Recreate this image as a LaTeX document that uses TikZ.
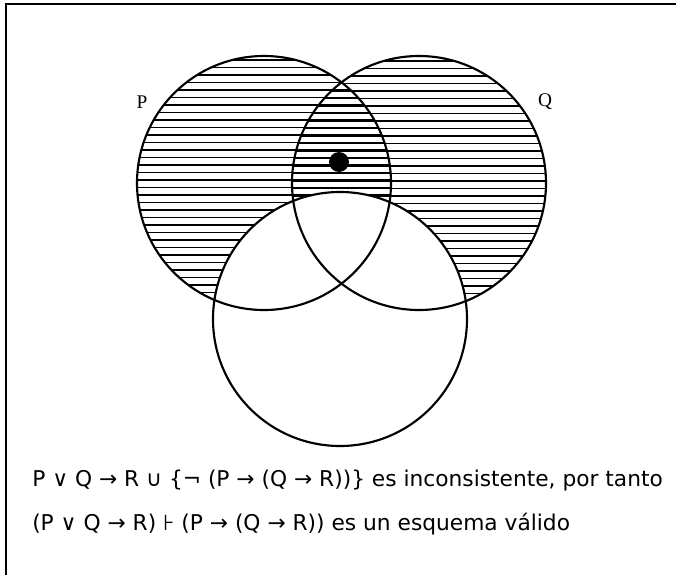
\documentclass[tikz,border=0pt]{standalone}
\usepackage{fontspec}
\setmainfont{DejaVu Sans}
\newfontfamily\setfont{Liberation Serif}
\usetikzlibrary{positioning}

\begin{document}
\begin{tikzpicture}[
        x=0.75pt, y=-0.75pt,
        ring/.style={draw, line width=1.6pt},
        hatch/.style={line width=0.8pt},
        setlabel/.style={font=\setfont\fontsize{14.5}{16}\selectfont, inner sep=0pt},
        caption/.style={font=\fontsize{16.3}{18}\selectfont, anchor=base west, inner sep=0pt}
    ]
        \useasboundingbox (0,0) rectangle (676,575);
        \draw[line width=1.1pt] (6,575) -- (6,4) -- (676,4);

        \coordinate (cP) at (264,183);
        \coordinate (cQ) at (419,183);
        \coordinate (cR) at (340,319);

        % hatching of P and Q
        \begin{scope}
            \clip (cP) circle[radius=127];
            \foreach \k in {0,...,34}
                \draw[hatch] (130,60+7.5*\k) -- (400,60+7.5*\k);
        \end{scope}
        \begin{scope}
            \clip (cQ) circle[radius=127];
            \foreach \k in {0,...,34}
                \draw[hatch] (285,61+7.5*\k) -- (555,61+7.5*\k);
        \end{scope}
        \fill[white] (cR) circle[radius=127];

        \draw[ring] (cP) circle[radius=127];
        \draw[ring] (cQ) circle[radius=127];
        \draw[ring] (cR) circle[radius=127];
        \fill (339,162) circle[radius=10];

        \node[setlabel] (labP) at (142,102) {P};
        \node[setlabel] (labQ) at (545,102) {Q};

        \node[caption] (line1) at (32,486) {P ∨ Q → R ∪ \{¬ (P → (Q → R))\} es inconsistente, por tanto};
        \node[caption] (line2) at (32,530) {(P ∨ Q → R) ⊦ (P → (Q → R)) es un esquema válido};
    \end{tikzpicture}
\end{document}
